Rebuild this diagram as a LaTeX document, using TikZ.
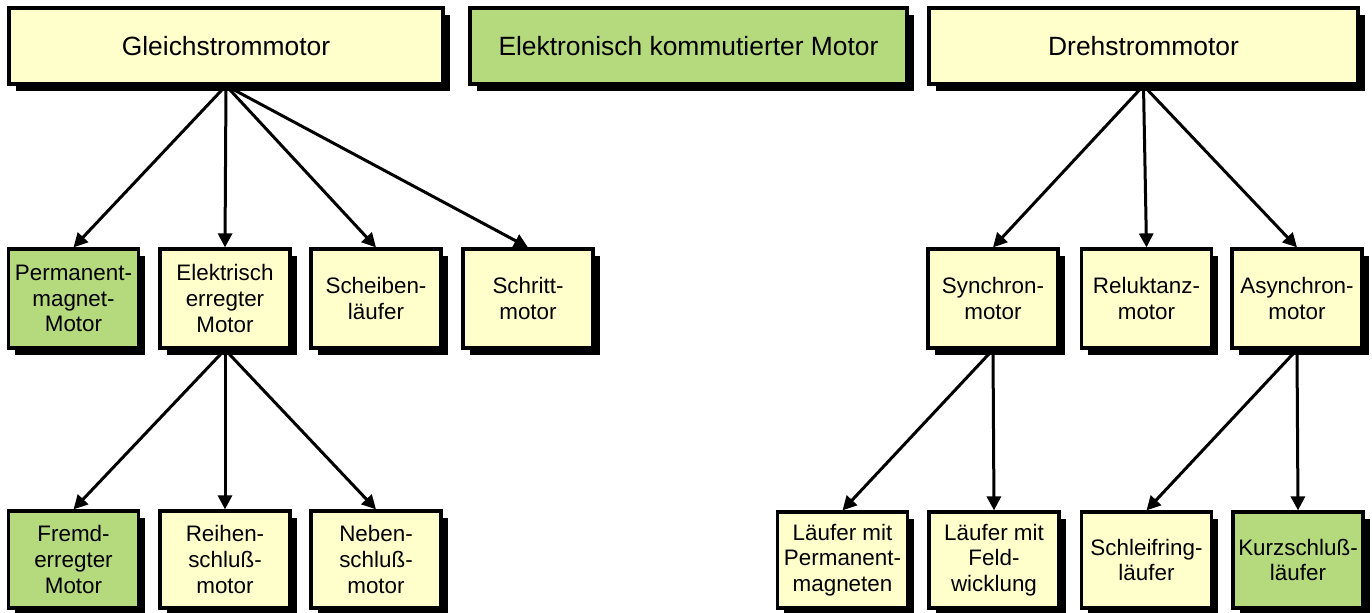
\documentclass[tikz,border=0pt]{standalone}
\usepackage{fontspec}
\setmainfont{Liberation Sans}
\usepackage{tikz}
\usetikzlibrary{arrows.meta,positioning,shadows}
\definecolor{boxyellow}{RGB}{255,255,204}
\definecolor{boxgreen}{RGB}{181,217,125}

\begin{document}
\begin{tikzpicture}[
    x=0.5pt, y=-0.5pt,
    typebox/.style={rectangle, draw=black, line width=1.6pt, fill=boxyellow, font=\fontsize{13.2}{16}\selectfont, minimum height=38pt, inner sep=0pt,
        drop shadow={shadow xshift=3.3pt, shadow yshift=-3.3pt, fill=black, opacity=1}},
    subbox/.style={rectangle, draw=black, line width=1.6pt, fill=boxyellow, align=center, font=\fontsize{11.2}{12.8}\selectfont, minimum width=65pt, inner sep=0pt,
        drop shadow={shadow xshift=3.3pt, shadow yshift=-3.3pt, fill=black, opacity=1}},
    arrow/.style={-{Triangle[length=7pt, width=7pt]}, line width=1.5pt}
]
\useasboundingbox (0,0) rectangle (1372,613);

% top row
\node[typebox, minimum width=217pt] (gleich) at (226, 46) {Gleichstrommotor};
\node[typebox, minimum width=218.5pt, fill=boxgreen] (ekm) at (688.5, 46) {Elektronisch kommutierter Motor};
\node[typebox, minimum width=214.5pt] (dreh) at (1143.5, 46) {Drehstrommotor};

% middle row
\node[subbox, minimum height=49.5pt, fill=boxgreen] (perm) at (73.5, 298.5) {Permanent-\\magnet-\\Motor};
\node[subbox, minimum height=49.5pt] (elek) at (225, 298.5) {Elektrisch\\erregter\\Motor};
\node[subbox, minimum height=49.5pt] (scheib) at (376, 298.5) {Scheiben-\\läufer};
\node[subbox, minimum height=49.5pt] (schritt) at (528, 298.5) {Schritt-\\motor};
\node[subbox, minimum height=49.5pt] (sync) at (993, 298.5) {Synchron-\\motor};
\node[subbox, minimum height=49.5pt] (rel) at (1146.5, 298.5) {Reluktanz-\\motor};
\node[subbox, minimum height=49.5pt] (async) at (1297, 298.5) {Asynchron-\\motor};

% bottom row
\node[subbox, minimum height=48.5pt, fill=boxgreen] (fremd) at (73.5, 559.5) {Fremd-\\erregter\\Motor};
\node[subbox, minimum height=48.5pt] (reihen) at (225, 559.5) {Reihen-\\schluß-\\motor};
\node[subbox, minimum height=48.5pt] (neben) at (376, 559.5) {Neben-\\schluß-\\motor};
\node[subbox, minimum height=48pt] (lpm) at (842.5, 560) {Läufer mit\\Permanent-\\magneten};
\node[subbox, minimum height=48pt] (lfw) at (994, 560) {Läufer mit\\Feld-\\wicklung};
\node[subbox, minimum height=48pt] (schleif) at (1146.5, 560) {Schleifring-\\läufer};
\node[subbox, minimum height=48pt, fill=boxgreen] (kurz) at (1298, 560) {Kurzschluß-\\läufer};

% connections
\foreach \from/\to in {gleich/perm, gleich/elek, gleich/scheib, gleich/schritt,
                       elek/fremd, elek/reihen, elek/neben,
                       dreh/sync, dreh/rel, dreh/async,
                       sync/lpm, sync/lfw, async/schleif, async/kurz} {
    \draw[arrow] (\from.south) -- (\to.north);
}
\end{tikzpicture}
\end{document}
